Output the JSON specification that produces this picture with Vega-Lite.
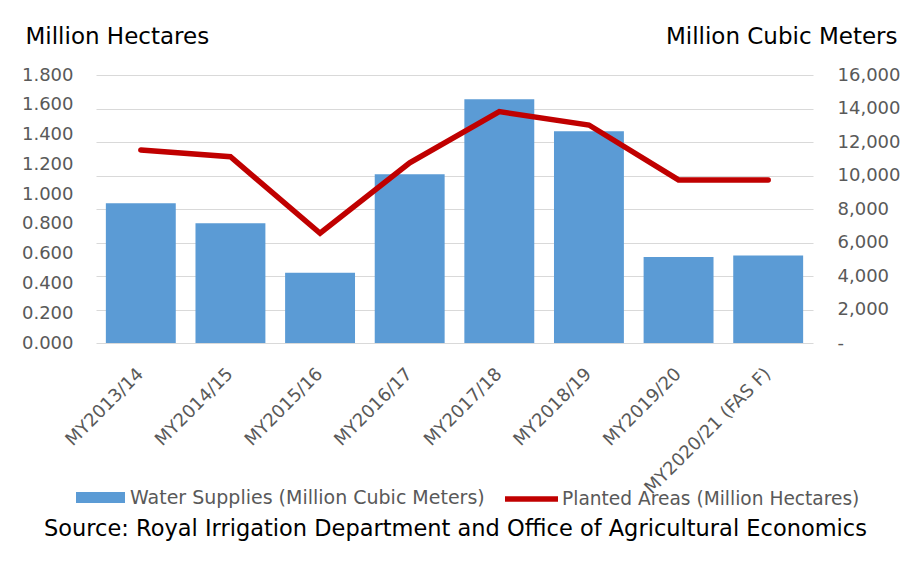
{
  "$schema": "https://vega.github.io/schema/vega-lite/v6.json",
  "width": 717,
  "height": 268,
  "autosize": {"type": "none"},
  "padding": {"left": 96, "top": 75, "right": 99, "bottom": 218},
  "background": "white",
  "config": {
    "font": "DejaVu Sans",
    "view": {"stroke": null},
    "axis": {"labelFont": "DejaVu Sans", "titleFont": "DejaVu Sans", "labelColor": "#595959", "titleFontWeight": "normal", "domain": false, "ticks": false}
  },
  "data": {
    "values": [
      {"year": "MY2013/14", "water": 8340, "planted": 1.296},
      {"year": "MY2014/15", "water": 7150, "planted": 1.251},
      {"year": "MY2015/16", "water": 4200, "planted": 0.737},
      {"year": "MY2016/17", "water": 10070, "planted": 1.21},
      {"year": "MY2017/18", "water": 14550, "planted": 1.554},
      {"year": "MY2018/19", "water": 12640, "planted": 1.464},
      {"year": "MY2019/20", "water": 5130, "planted": 1.095},
      {"year": "MY2020/21 (FAS F)", "water": 5230, "planted": 1.095}
    ]
  },
  "encoding": {
    "x": {
      "field": "year",
      "type": "nominal",
      "sort": null,
      "scale": {"paddingInner": 0.22, "paddingOuter": 0.11},
      "axis": {
        "labelAngle": -45,
        "labelAlign": "right",
        "labelBaseline": "middle",
        "labelPadding": 28,
        "labelFontSize": 18,
        "labelLimit": 0,
        "grid": false,
        "title": "Source: Royal Irrigation Department and Office of Agricultural Economics",
        "titleFontSize": 22.5,
        "titleColor": "#000000",
        "titleX": 359,
        "titleY": 192,
        "titleAlign": "center",
        "titleBaseline": "alphabetic",
        "titleAngle": 0,
        "titleLimit": 0
      }
    }
  },
  "layer": [
    {
      "mark": {"type": "bar", "color": "#5B9BD5"},
      "encoding": {
        "y": {
          "field": "water",
          "type": "quantitative",
          "scale": {"domain": [0, 16000], "nice": false},
          "axis": {
            "orient": "right",
            "values": [0, 2000, 4000, 6000, 8000, 10000, 12000, 14000, 16000],
            "labelExpr": "datum.value == 0 ? '  -' : format(datum.value, ',')",
            "labelFontSize": 18,
            "labelPadding": 24,
            "grid": true,
            "gridColor": "#D9D9D9",
            "gridWidth": 1.2,
            "title": "Million Cubic Meters",
            "titleFontSize": 23,
            "titleColor": "#000000",
            "titleAngle": 0,
            "titleAlign": "right",
            "titleBaseline": "alphabetic",
            "titleX": 84,
            "titleY": -32,
            "titleLimit": 0
          }
        },
        "fill": {
          "datum": "Water Supplies (Million Cubic Meters)",
          "scale": {"range": ["#5B9BD5"]},
          "legend": {
            "orient": "none",
            "legendX": -20,
            "legendY": 398,
            "direction": "horizontal",
            "title": null,
            "symbolType": "M-1,-0.225H1V0.225H-1Z",
            "symbolSize": 2401,
            "symbolStrokeWidth": 0,
            "labelFontSize": 19,
            "labelLimit": 0,
            "labelColor": "#595959",
            "labelOffset": 5,
            "labelFont": "DejaVu Sans"
          }
        }
      }
    },
    {
      "mark": {"type": "line", "strokeWidth": 5.5, "strokeCap": "round", "strokeJoin": "miter"},
      "encoding": {
        "y": {
          "field": "planted",
          "type": "quantitative",
          "scale": {"domain": [0, 1.8], "nice": false},
          "axis": {
            "orient": "left",
            "values": [0, 0.2, 0.4, 0.6, 0.8, 1.0, 1.2, 1.4, 1.6, 1.8],
            "format": ".3f",
            "labelFontSize": 18,
            "labelPadding": 23,
            "grid": false,
            "title": "Million Hectares",
            "titleFontSize": 23,
            "titleColor": "#000000",
            "titleAngle": 0,
            "titleAlign": "left",
            "titleBaseline": "alphabetic",
            "titleX": -71,
            "titleY": -32,
            "titleLimit": 0
          }
        },
        "stroke": {
          "datum": "Planted Areas (Million Hectares)",
          "scale": {"range": ["#C00000"]},
          "legend": {
            "orient": "none",
            "legendX": 406,
            "legendY": 394.5,
            "direction": "horizontal",
            "title": null,
            "symbolType": "M-1,0H1",
            "symbolSize": 2809,
            "symbolStrokeWidth": 5.5,
            "labelFontSize": 18.6,
            "labelLimit": 0,
            "labelColor": "#595959",
            "labelOffset": 1,
            "labelFont": "DejaVu Sans"
          }
        }
      }
    }
  ],
  "resolve": {"scale": {"y": "independent"}}
}
